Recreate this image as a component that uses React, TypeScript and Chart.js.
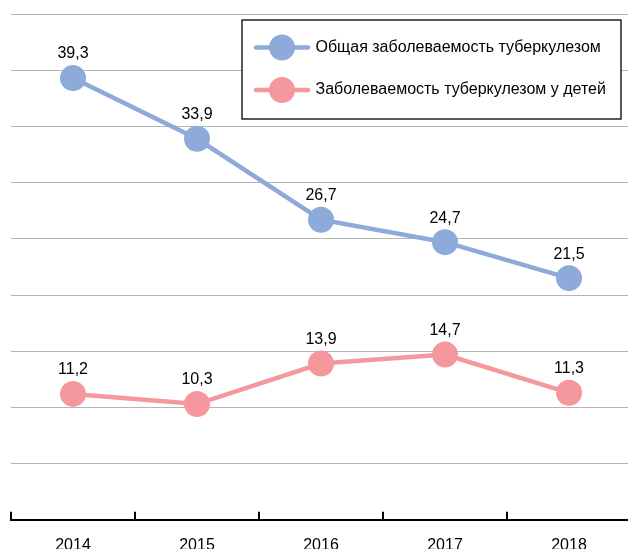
import React, { useEffect, useRef } from "react";
import { Chart, registerables } from "chart.js";

Chart.register(...registerables);

const years = ["2014", "2015", "2016", "2017", "2018"];
const totalIncidence = [39.3, 33.9, 26.7, 24.7, 21.5];
const childIncidence = [11.2, 10.3, 13.9, 14.7, 11.3];
const seriesNames = [
  "Общая заболеваемость туберкулезом",
  "Заболеваемость туберкулезом у детей",
];
const yMin = 0;
const yMax = 45;
const yStep = 5;

const BLUE = "#8eaadb";
const PINK = "#f4989e";
const FONT = '"Liberation Sans", Arial, sans-serif';

const fmt = (v: number) => v.toFixed(1).replace(".", ",");

const dataLabelsPlugin = {
  id: "dataLabelsCustom",
  afterDatasetsDraw(chart: any) {
    const ctx = chart.ctx;
    ctx.save();
    ctx.font = `16px ${FONT}`;
    ctx.fillStyle = "#000";
    ctx.textAlign = "center";
    ctx.textBaseline = "middle";
    chart.data.datasets.forEach((ds: any, i: number) => {
      const meta = chart.getDatasetMeta(i);
      meta.data.forEach((pt: any, j: number) => {
        ctx.fillText(fmt(ds.data[j]), pt.x, pt.y - 24);
      });
    });
    ctx.restore();
  },
};

const axisTicksPlugin = {
  id: "axisTicksUp",
  afterDraw(chart: any) {
    const ctx = chart.ctx;
    const xs = chart.scales.x;
    const n = xs.ticks.length;
    const area = chart.chartArea;
    ctx.save();
    ctx.strokeStyle = "#000";
    ctx.lineWidth = 2;
    for (let i = 0; i <= n; i++) {
      const x = area.left + (i * (area.right - area.left)) / n;
      ctx.beginPath();
      ctx.moveTo(x, area.bottom);
      ctx.lineTo(x, area.bottom - 8);
      ctx.stroke();
    }
    ctx.restore();
  },
};

const legendPlugin = {
  id: "legendBox",
  afterDraw(chart: any) {
    const ctx = chart.ctx;
    const area = chart.chartArea;
    const w = 379;
    const h = 99;
    const left = area.right - 10 - w;
    const top = area.top + 6;
    ctx.save();
    ctx.fillStyle = "#fff";
    ctx.fillRect(left, top, w, h);
    ctx.strokeStyle = "#000";
    ctx.lineWidth = 1.3;
    ctx.strokeRect(left, top, w, h);
    const rows = [27.5, 70];
    chart.data.datasets.forEach((ds: any, i: number) => {
      const y = top + rows[i];
      ctx.strokeStyle = ds.borderColor;
      ctx.lineWidth = 4.5;
      ctx.lineCap = "round";
      ctx.beginPath();
      ctx.moveTo(left + 14, y);
      ctx.lineTo(left + 66, y);
      ctx.stroke();
      ctx.fillStyle = ds.pointBackgroundColor;
      ctx.beginPath();
      ctx.arc(left + 40, y, 13, 0, Math.PI * 2);
      ctx.fill();
      ctx.fillStyle = "#000";
      ctx.font = `16px ${FONT}`;
      ctx.textAlign = "left";
      ctx.textBaseline = "middle";
      ctx.fillText(ds.label, left + 73.5, y);
    });
    ctx.restore();
  },
};

export default function App() {
  const ref = useRef<HTMLCanvasElement>(null);
  useEffect(() => {
    if (!ref.current) return;
    const chart = new Chart(ref.current, {
      type: "line",
      data: {
        labels: years,
        datasets: [
          {
            label: seriesNames[0],
            data: totalIncidence,
            borderColor: BLUE,
            backgroundColor: BLUE,
            pointBackgroundColor: BLUE,
            borderWidth: 4.5,
            pointRadius: 13,
            pointBorderWidth: 0,
            tension: 0,
          },
          {
            label: seriesNames[1],
            data: childIncidence,
            borderColor: PINK,
            backgroundColor: PINK,
            pointBackgroundColor: PINK,
            borderWidth: 4.5,
            pointRadius: 13,
            pointBorderWidth: 0,
            tension: 0,
          },
        ],
      },
      options: {
        responsive: false,
        animation: false,
        events: [],
        layout: { padding: { left: 0, top: 14, right: 0, bottom: 4 } },
        plugins: {
          legend: { display: false },
          tooltip: { enabled: false },
        },
        scales: {
          x: {
            type: "category",
            offset: true,
            grid: { display: false, drawTicks: false },
            border: { display: true, color: "#000", width: 2 },
            ticks: {
              color: "#000",
              padding: 16,
              font: { family: FONT, size: 16 },
              maxRotation: 0,
            },
          },
          y: {
            min: yMin,
            max: yMax,
            ticks: { display: false, stepSize: yStep },
            grid: { color: "#b5b5b5", lineWidth: 1, drawTicks: false },
            border: { display: false },
          },
        },
      },
      plugins: [dataLabelsPlugin, axisTicksPlugin, legendPlugin],
    });
    return () => chart.destroy();
  }, []);
  return (
    <div
      style={{
        position: "fixed",
        left: 0,
        top: 0,
        width: 628,
        height: 549,
        overflow: "hidden",
        background: "#fff",
      }}
    >
      <canvas
        ref={ref}
        width={646}
        height={575}
        style={{ position: "absolute", left: -2, top: 0, width: 646, height: 575 }}
      />
    </div>
  );
}
